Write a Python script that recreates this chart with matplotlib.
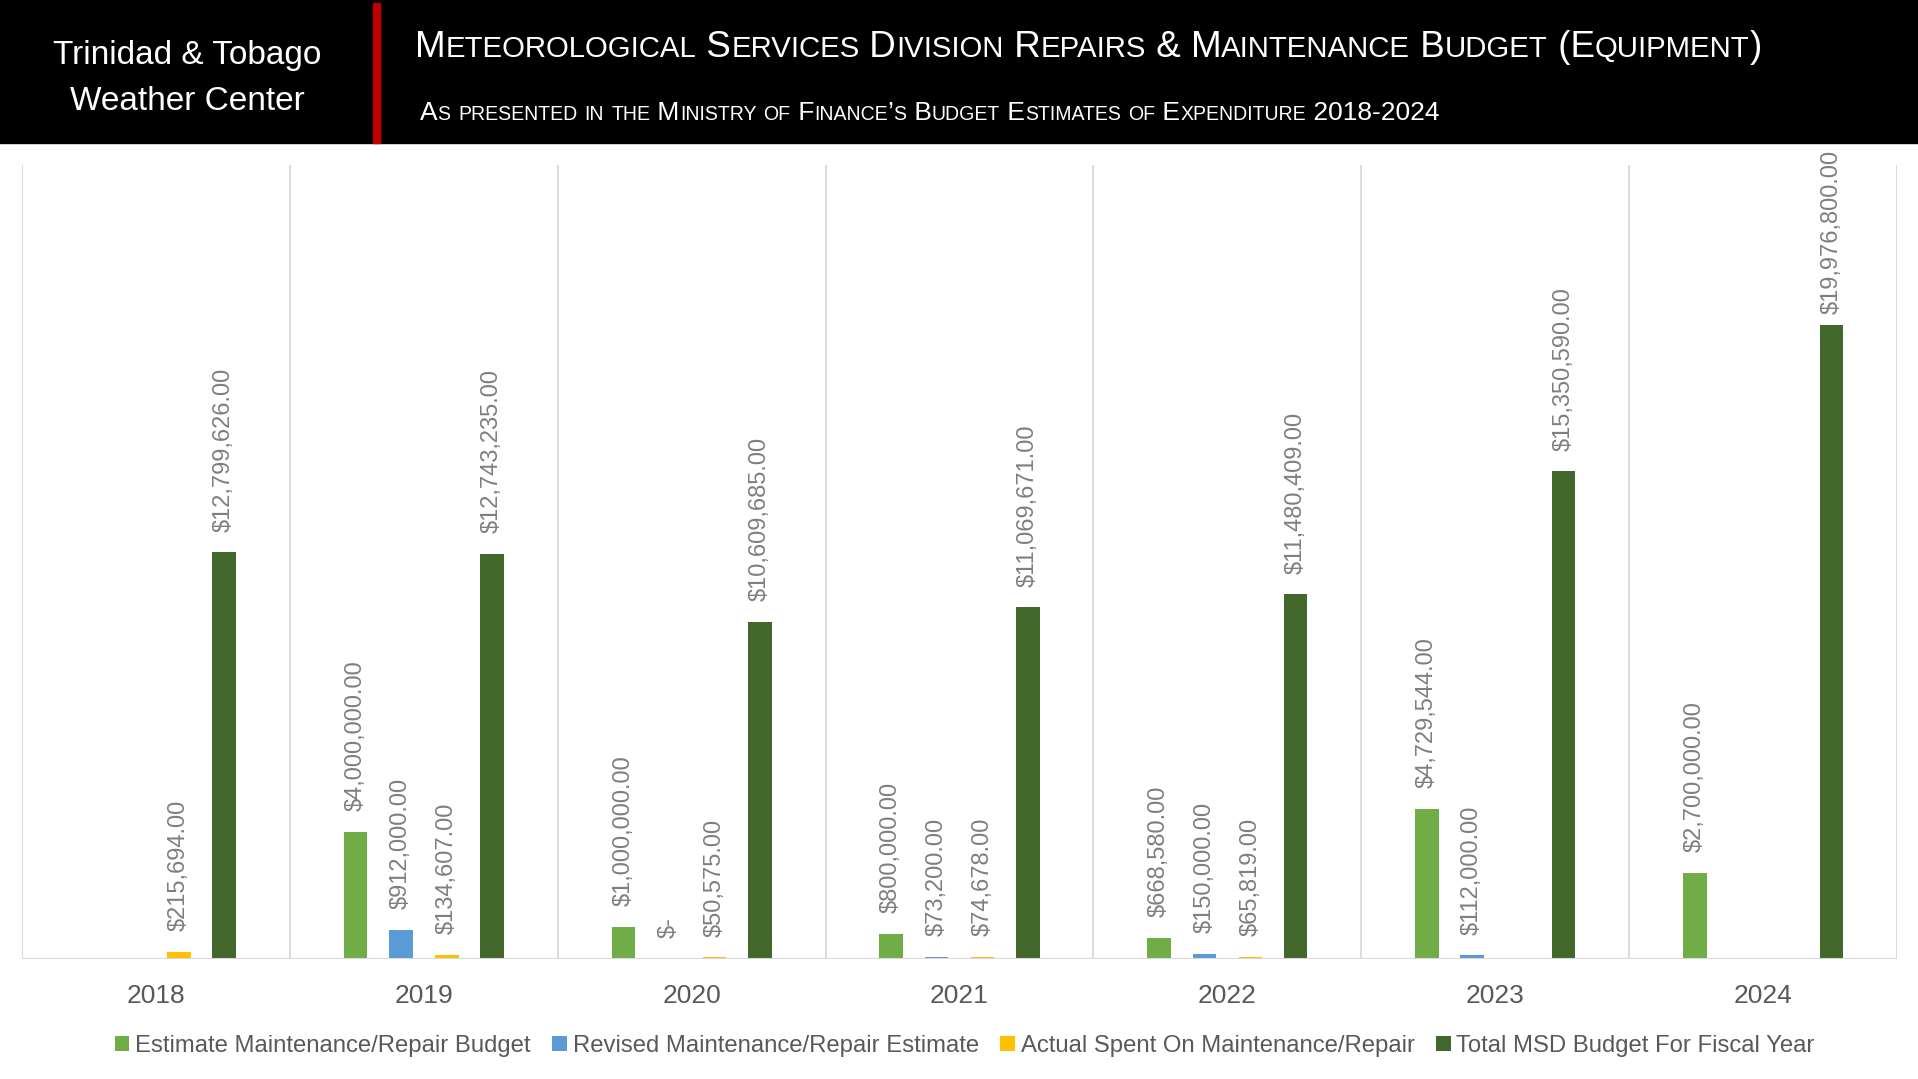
import numpy as np
import matplotlib
matplotlib.use('Agg')
import matplotlib.pyplot as plt
from matplotlib.patches import Rectangle

# data
years = ['2018', '2019', '2020', '2021', '2022', '2023', '2024']
estimate = [np.nan, 4000000, 1000000, 800000, 668580, 4729544, 2700000]
revised = [np.nan, 912000, 0, 73200, 150000, 112000, np.nan]
actual = [215694, 134607, 50575, 74678, 65819, np.nan, np.nan]
total = [12799626, 12743235, 10609685, 11069671, 11480409, 15350590, 19976800]

series_names = ['Estimate Maintenance/Repair Budget',
                'Revised Maintenance/Repair Estimate',
                'Actual Spent On Maintenance/Repair',
                'Total MSD Budget For Fiscal Year']
colors = ['#70ad47', '#5b9bd5', '#ffc000', '#43682b']

W, H = 1918, 1079
FAM = 'Liberation Sans'

fig = plt.figure(figsize=(W / 100, H / 100), dpi=100)
ax = fig.add_axes([22 / W, 1 - 959 / H, (1897 - 22) / W, (959 - 165) / H])
renderer = fig.canvas.get_renderer()

x = np.arange(len(years))
offsets = [-0.255, -0.086, 0.086, 0.255]
bw = 0.088
all_series = [estimate, revised, actual, total]

ax.set_xlim(-0.5, len(years) - 0.5)
ax.set_ylim(0, 25000000)

handles = []
for vals, off, col in zip(all_series, offsets, colors):
    vals = np.array(vals, dtype=float)
    b = ax.bar(x + off, np.nan_to_num(vals), width=bw, color=col, zorder=3)
    handles.append(b)
    for xi, v in zip(x, vals):
        if np.isnan(v):
            continue
        lab = f'${v:,.2f}' if v > 0 else '$-'
        an = ax.annotate(lab, xy=(xi + off, v), xytext=(0, 15), textcoords='offset points',
                         rotation=90, ha='center', va='bottom', color='#7f7f7f',
                         fontsize=17, family=FAM, annotation_clip=False)
        # keep labels inside the chart area like excel does (top ~150px)
        bb = an.get_window_extent(renderer)
        top_px = H - bb.y1
        if top_px < 150:
            an.xyann = (0, 15 - (150 - top_px) * 0.72)

for bnd in np.arange(-0.5, len(years)):
    ax.axvline(bnd, color='#d9d9d9', lw=1.3, zorder=1)
ax.axhline(0, color='#d9d9d9', lw=2.2, zorder=4)
for s in ax.spines.values():
    s.set_visible(False)
ax.set_yticks([])
ax.set_xticks(x, years)
ax.tick_params(axis='x', length=0, pad=18, labelsize=19, labelcolor='#595959')
for t in ax.get_xticklabels():
    t.set_family(FAM)

fig.legend(handles, series_names, loc='center', bbox_to_anchor=(965 / W, 1 - 1046 / H),
           ncol=4, frameon=False, handlelength=0.6, handleheight=0.6, handletextpad=0.25,
           columnspacing=0.9, labelcolor='#595959', prop={'family': FAM, 'size': 17.2})

# header band
fig.patches.append(Rectangle((0, 1 - 143 / H), 1, 143 / H, transform=fig.transFigure,
                             color='black', zorder=0))
fig.patches.append(Rectangle((373 / W, 1 - 143 / H), 7 / W, 140 / H, transform=fig.transFigure,
                             color='#c00000', zorder=1))

fig.text(187 / W, 1 - 64 / H, 'Trinidad & Tobago', color='white', ha='center', va='baseline',
         fontsize=24, family=FAM)
fig.text(187 / W, 1 - 110 / H, 'Weather Center', color='white', ha='center', va='baseline',
         fontsize=24, family=FAM)


def small_caps(s, x0, y0, size, ratio, target_w):
    runs = []
    for ch in s:
        small = ch.islower()
        c = ch.upper() if small else ch
        if runs and runs[-1][1] == small:
            runs[-1][0] += c
        else:
            runs.append([c, small])
    # first pass to measure, second pass to fit the target width
    for attempt in range(2):
        arts = []
        xp = x0
        for t, small in runs:
            txt = fig.text(xp / W, 1 - y0 / H, t, color='white', ha='left', va='baseline',
                           fontsize=size * ratio if small else size, family=FAM)
            arts.append(txt)
            xp += txt.get_window_extent(renderer).width
        if attempt == 0:
            for a in arts:
                a.remove()
            size = size * target_w / (xp - x0)
    return arts


small_caps('Meteorological Services Division Repairs & Maintenance Budget (Equipment)',
           415, 57, 30, 0.8, 1765 - 415)
small_caps('As presented in the Ministry of Finance\u2019s Budget Estimates of Expenditure 2018-2024',
           420, 120, 22, 0.74, 1441 - 420)

fig.savefig('out.png', dpi=100)
